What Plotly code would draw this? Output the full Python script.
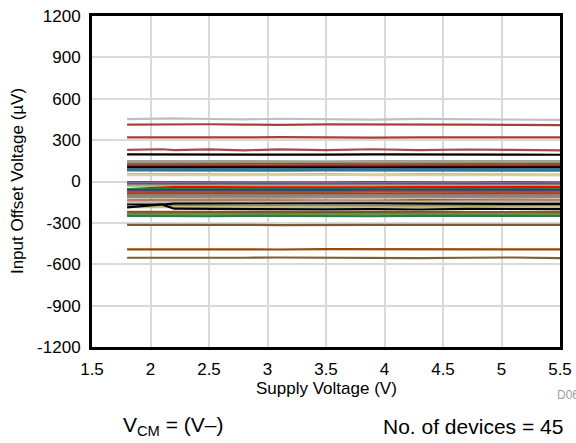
import plotly.graph_objects as go

# Supply voltage sample points (V)
supply_v = [1.8, 2.1, 2.2, 2.5, 2.8, 3.1, 3.5, 3.9, 4.3, 4.7, 5.1, 5.5]

# Input offset voltage per device (uV) at each supply voltage
dev01 = [452, 455, 457, 453, 450, 455, 452, 449, 454, 451, 450, 447]
dev02 = [412, 414, 413, 415, 413, 411, 414, 415, 412, 413, 411, 409]
dev03 = [320, 319, 321, 318, 320, 322, 319, 318, 320, 319, 321, 320]
dev04 = [230, 234, 228, 233, 226, 233, 228, 234, 227, 232, 229, 226]
dev05 = [196, 195, 197, 194, 196, 193, 195, 196, 194, 193, 195, 194]
dev06 = [147, 146, 145, 147, 144, 146, 145, 147, 146, 144, 145, 146]
dev07 = [140, 139, 141, 140, 139, 141, 140, 139, 141, 140, 139, 140]
dev08 = [136, 135, 137, 134, 136, 133, 135, 136, 134, 135, 133, 134]
dev09 = [125, 126, 124, 126, 125, 124, 127, 125, 126, 124, 125, 126]
dev10 = [118, 117, 119, 118, 117, 119, 118, 117, 118, 119, 117, 118]
dev11 = [114, 113, 115, 113, 114, 112, 114, 115, 113, 114, 112, 113]
dev12 = [103, 102, 103, 101, 102, 104, 102, 101, 103, 102, 101, 102]
dev13 = [90, 91, 89, 90, 92, 89, 90, 91, 89, 90, 91, 90]
dev14 = [86, 85, 87, 86, 85, 86, 87, 85, 86, 85, 87, 86]
dev15 = [80, 79, 81, 78, 80, 79, 81, 80, 78, 79, 80, 79]
dev16 = [53, 52, 55, 50, 54, 51, 53, 50, 54, 52, 51, 50]
dev17 = [46, 47, 45, 47, 46, 45, 47, 46, 45, 47, 46, 45]
dev18 = [-5, -6, -7, -5, -6, -8, -6, -5, -7, -6, -5, -6]
dev19 = [-12, -13, -11, -12, -13, -12, -11, -13, -12, -11, -12, -13]
dev20 = [-20, -21, -22, -20, -21, -23, -22, -20, -21, -22, -20, -21]
dev21 = [-30, -31, -29, -30, -31, -30, -29, -31, -30, -29, -31, -30]
dev22 = [-55, -42, -40, -41, -42, -40, -41, -43, -41, -40, -42, -41]
dev23 = [-56, -55, -57, -56, -55, -57, -56, -55, -56, -57, -55, -56]
dev24 = [-62, -63, -61, -62, -63, -62, -61, -63, -62, -61, -63, -62]
dev25 = [-75, -76, -74, -76, -75, -77, -76, -74, -75, -76, -77, -75]
dev26 = [-87, -86, -88, -86, -87, -85, -86, -88, -87, -86, -85, -87]
dev27 = [-95, -96, -94, -95, -96, -95, -94, -96, -95, -94, -96, -95]
dev28 = [-100, -99, -101, -100, -98, -101, -100, -99, -101, -100, -99, -100]
dev29 = [-110, -111, -109, -110, -111, -110, -109, -111, -110, -109, -111, -110]
dev30 = [-116, -117, -115, -118, -116, -117, -115, -117, -118, -116, -117, -116]
dev31 = [-136, -137, -135, -138, -136, -137, -136, -138, -135, -137, -136, -137]
dev32 = [-145, -146, -144, -145, -146, -145, -144, -146, -145, -144, -146, -145]
dev33 = [-152, -154, -153, -155, -152, -154, -153, -155, -152, -154, -153, -154]
dev34 = [-168, -167, -160, -159, -161, -158, -160, -159, -161, -160, -158, -162]
dev35 = [-178, -177, -179, -178, -177, -179, -178, -177, -178, -179, -177, -178]
dev36 = [-186, -185, -188, -186, -184, -187, -185, -188, -186, -185, -187, -186]
dev37 = [-188, -166, -197, -199, -201, -198, -202, -200, -203, -199, -201, -200]
dev38 = [-220, -221, -219, -222, -220, -219, -221, -220, -222, -219, -221, -220]
dev39 = [-228, -229, -227, -228, -229, -228, -227, -229, -228, -227, -229, -228]
dev40 = [-233, -234, -232, -235, -233, -232, -234, -236, -233, -232, -234, -233]
dev41 = [-241, -242, -240, -241, -242, -241, -240, -242, -241, -240, -242, -241]
dev42 = [-249, -251, -250, -252, -249, -251, -250, -252, -249, -250, -251, -250]
dev43 = [-314, -313, -315, -312, -314, -316, -313, -315, -314, -313, -315, -314]
dev44 = [-492, -493, -491, -494, -492, -493, -491, -492, -494, -493, -491, -492]
dev45 = [-553, -554, -552, -555, -553, -551, -554, -552, -555, -553, -551, -555]

devices = [dev01, dev02, dev03, dev04, dev05, dev06, dev07, dev08, dev09, dev10,
           dev11, dev12, dev13, dev14, dev15, dev16, dev17, dev18, dev19, dev20,
           dev21, dev22, dev23, dev24, dev25, dev26, dev27, dev28, dev29, dev30,
           dev31, dev32, dev33, dev34, dev35, dev36, dev37, dev38, dev39, dev40,
           dev41, dev42, dev43, dev44, dev45]

colors = ["#C0C0C0", "#A5403D", "#A5403D", "#A84A4D", "#000000", "#7F7F7F", "#A6A6A6",
          "#9C9A61", "#A0403F", "#C0504D", "#8B2E2E", "#000000", "#2E6486", "#31859C",
          "#3C6E8F", "#C4BD76", "#D7D0A0", "#6E4E3A", "#8064A2", "#604A7B", "#9BBB59",
          "#FF0000", "#2A7A52", "#1F497D", "#E03030", "#8A5A2E", "#984807", "#8C8C8C",
          "#7F7F7F", "#9E8A78", "#A0522D", "#C3A98A", "#BDBDBD", "#000000", "#938953",
          "#C4BD76", "#000000", "#8A5A2E", "#4F6228", "#B0643A", "#76923C", "#2A7A52",
          "#7A5A3A", "#984807", "#7F6032"]

x_ticks = [1.5, 2, 2.5, 3, 3.5, 4, 4.5, 5, 5.5]
y_ticks = [-1200, -900, -600, -300, 0, 300, 600, 900, 1200]

fig = go.Figure()
for vals, col in zip(devices, colors):
    fig.add_trace(go.Scatter(x=supply_v, y=vals, mode="lines",
                             line=dict(color=col, width=2.2), showlegend=False,
                             hoverinfo="skip"))

font = "Liberation Sans, Arial, sans-serif"
axis_common = dict(showline=True, linecolor="black", linewidth=3, mirror=True,
                   showgrid=True, gridcolor="#D9D9D9", gridwidth=1.5, zeroline=False,
                   ticks="outside", ticklen=5, tickcolor="rgba(0,0,0,0)",
                   automargin=False,
                   tickfont=dict(family=font, size=17, color="black"))

fig.update_layout(
    width=576, height=443,
    margin=dict(l=92, r=16, t=16, b=96, autoexpand=False),
    paper_bgcolor="white", plot_bgcolor="white",
    xaxis=dict(range=[1.5, 5.5], tickvals=x_ticks,
               ticktext=[f"{v:g}" for v in x_ticks], **axis_common),
    yaxis=dict(range=[-1200, 1200], tickvals=y_ticks,
               ticktext=[str(v) for v in y_ticks], **axis_common),
    annotations=[
        dict(text="Supply Voltage (V)", xref="paper", yref="paper", x=0.5, y=-0.125,
             xanchor="center", yanchor="middle", showarrow=False,
             font=dict(family=font, size=17, color="black")),
        dict(text="Input Offset Voltage (µV)", xref="paper", yref="paper", x=-0.159, y=0.5,
             textangle=-90, xanchor="center", yanchor="middle", showarrow=False,
             font=dict(family=font, size=17, color="black")),
        dict(text="V<sub>CM</sub> = (V–)", xref="paper", yref="paper", x=0.173,
             y=-0.24, xanchor="center", yanchor="middle", showarrow=False,
             font=dict(family=font, size=21, color="black")),
        dict(text="No. of devices = 45", xref="paper", yref="paper", x=1.01,
             y=-0.24, xanchor="right", yanchor="middle", showarrow=False,
             font=dict(family=font, size=21, color="black")),
        dict(text="D065", xref="paper", yref="paper", x=0.99, y=-0.145,
             xanchor="left", yanchor="middle", showarrow=False,
             font=dict(family=font, size=12, color="#A0A0A0")),
    ],
)

fig.write_html("out.html",
               config={"displayModeBar": False},
               post_script="document.body.style.margin='0';"
                           "document.body.style.overflow='hidden';")
